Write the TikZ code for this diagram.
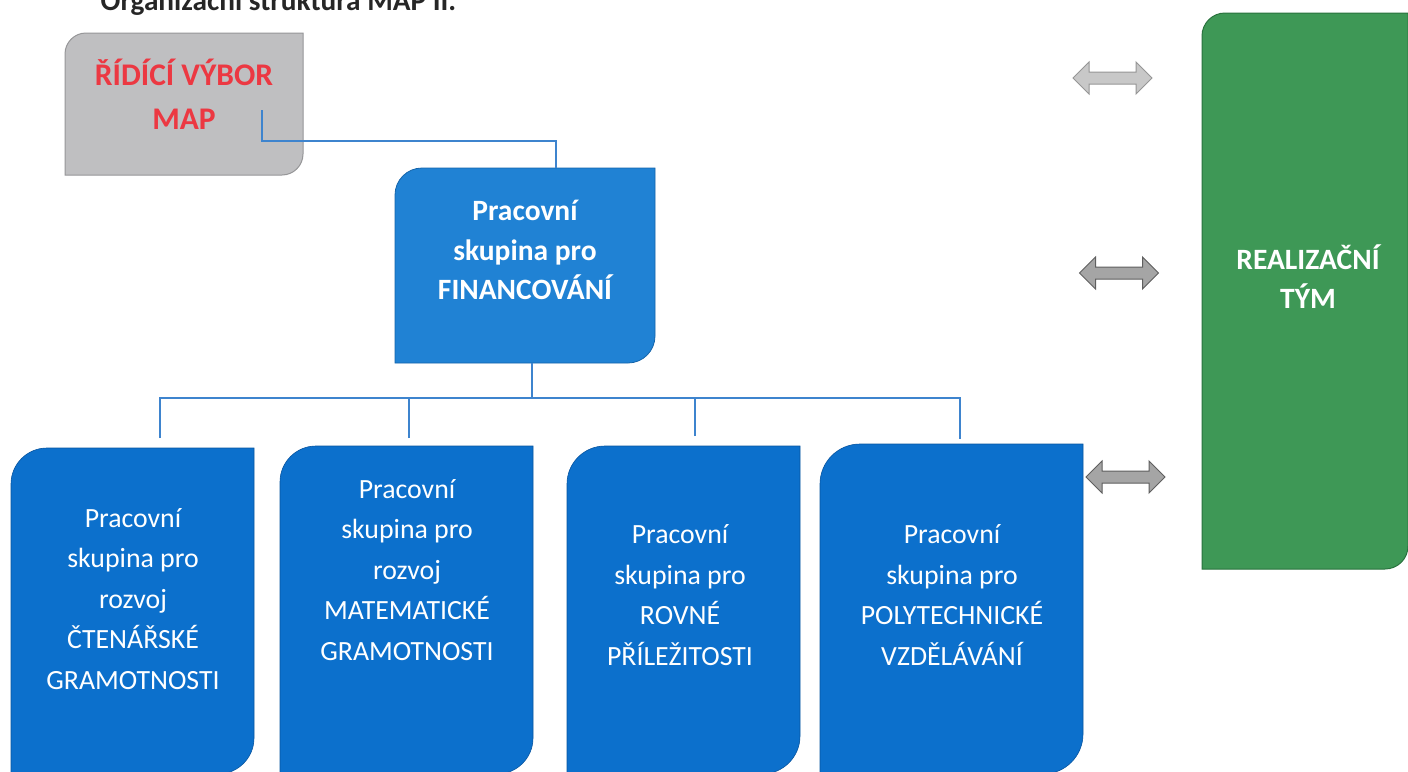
\documentclass[tikz,border=0pt]{standalone}
\usepackage{fontspec}
\setmainfont{Carlito}
\usetikzlibrary{calc,shapes.arrows}
\definecolor{grayfill}{RGB}{191,191,193}
\definecolor{grayedge}{RGB}{150,150,152}
\definecolor{redtext}{RGB}{236,56,66}
\definecolor{linkblue}{RGB}{62,132,206}
\definecolor{finblue}{RGB}{32,130,212}
\definecolor{finedge}{RGB}{20,100,170}
\definecolor{lowblue}{RGB}{12,112,204}
\definecolor{lowedge}{RGB}{8,85,160}
\definecolor{teamgreen}{RGB}{62,152,86}
\definecolor{teamedge}{RGB}{42,115,62}
\definecolor{arrlight}{RGB}{200,200,200}
\definecolor{arrlightedge}{RGB}{150,150,150}
\definecolor{arrdark}{RGB}{165,165,165}
\definecolor{arrdarkedge}{RGB}{95,95,95}
\newcommand\diagfill[3]{%
  \path[#1] let \p1=(#2.north west), \p2=(#2.south east) in
    (\x1,\y2) -- (\x1,\y1-#3) arc[start angle=180,end angle=90,radius=#3]
    -- (\x2,\y1) -- (\x2,\y2+#3) arc[start angle=0,end angle=-90,radius=#3] -- cycle;}
\tikzset{
  frame/.style={inner sep=0pt, outer sep=0pt},
  lbl/.style={align=center, text=white, font=\fontsize{27.8}{40.5}\selectfont, inner sep=0pt},
  lblb/.style={align=center, text=white, font=\bfseries\fontsize{29.5}{39.5}\selectfont, inner sep=0pt},
  conn/.style={draw=linkblue, line width=1.4pt},
  dbl/.style={double arrow, double arrow head extend=10pt, inner sep=5.5pt, minimum height=79pt, line width=1pt},
}
\begin{document}
\begin{tikzpicture}[x=1pt,y=1pt]
\useasboundingbox (0,0) rectangle (1408,-771);
\clip (0,0) rectangle (1408,-771);
\fill[white] (0,0) rectangle (1408,-771);
% title (cut at top, as in the reference)
\node[anchor=base, inner sep=0pt, text=black!85, font=\bfseries\fontsize{29.3}{32}\selectfont] (title) at (278.5,-10) {Organizační struktura MAP II.};
% frames
\node[frame, minimum width=238pt, minimum height=142pt] (rv) at (184,-104) {};
\node[frame, minimum width=260pt, minimum height=195pt] (fin) at (525,-265.5) {};
\node[frame, minimum width=206pt, minimum height=556pt] (rt) at (1305,-291) {};
\node[frame, minimum width=243pt, minimum height=326pt] (b1) at (132.5,-611) {};
\node[frame, minimum width=253pt, minimum height=328pt] (b2) at (406.5,-610) {};
\node[frame, minimum width=233pt, minimum height=328pt] (b3) at (683.5,-610) {};
\node[frame, minimum width=263pt, minimum height=330pt] (b4) at (951.5,-609) {};
% fills
\diagfill{fill=grayfill, draw=grayedge, line width=1pt}{rv}{21pt}
\diagfill{fill=finblue, draw=finedge, line width=0.8pt}{fin}{27pt}
\diagfill{fill=teamgreen, draw=teamedge, line width=1pt}{rt}{23pt}
\diagfill{fill=lowblue, draw=lowedge, line width=0.6pt}{b1}{36pt}
\diagfill{fill=lowblue, draw=lowedge, line width=0.6pt}{b2}{36pt}
\diagfill{fill=lowblue, draw=lowedge, line width=0.6pt}{b3}{38pt}
\diagfill{fill=lowblue, draw=lowedge, line width=0.6pt}{b4}{40pt}
% texts
\node[align=center, text=redtext, font=\bfseries\fontsize{31.5}{44}\selectfont, inner sep=0pt] (rvt) at (184,-94) {ŘÍDÍCÍ VÝBOR\\MAP};
\node[lblb] (fint) at (525,-250) {Pracovní\\skupina pro\\FINANCOVÁNÍ};
\node[lblb] (rtt) at (1308,-276.5) {REALIZAČNÍ\\TÝM};
\node[lbl] (t1) at (133,-599) {Pracovní\\skupina pro\\rozvoj\\ČTENÁŘSKÉ\\GRAMOTNOSTI};
\node[lbl] (t2) at (407,-570) {Pracovní\\skupina pro\\rozvoj\\MATEMATICKÉ\\GRAMOTNOSTI};
\node[lbl] (t3) at (680,-595) {Pracovní\\skupina pro\\ROVNÉ\\PŘÍLEŽITOSTI};
\node[lbl] (t4) at (952,-595) {Pracovní\\skupina pro\\POLYTECHNICKÉ\\VZDĚLÁVÁNÍ};
% connectors
\coordinate (rvout) at (262,-110);
\coordinate (finin) at (556,-168);
\coordinate (finout) at (532,-363);
\coordinate (bus) at (532,-398);
\coordinate (d1) at (160,-438);
\coordinate (d2) at (409,-438);
\coordinate (d3) at (695,-436);
\coordinate (d4) at (960,-439);
\draw[conn] (rvout) |- (556,-141) -- (finin);
\draw[conn] (finout) -- (bus);
\draw[conn] (d1) |- (bus) -| (d4);
\draw[conn] (d2) -- (d2 |- bus);
\draw[conn] (d3) -- (d3 |- bus);
% double arrows
\node[dbl, fill=arrlight, draw=arrlightedge] (a1) at (1112.5,-78) {};
\node[dbl, fill=arrdark, draw=arrdarkedge] (a2) at (1119,-273) {};
\node[dbl, fill=arrdark, draw=arrdarkedge] (a3) at (1125.5,-477) {};
\end{tikzpicture}
\end{document}
